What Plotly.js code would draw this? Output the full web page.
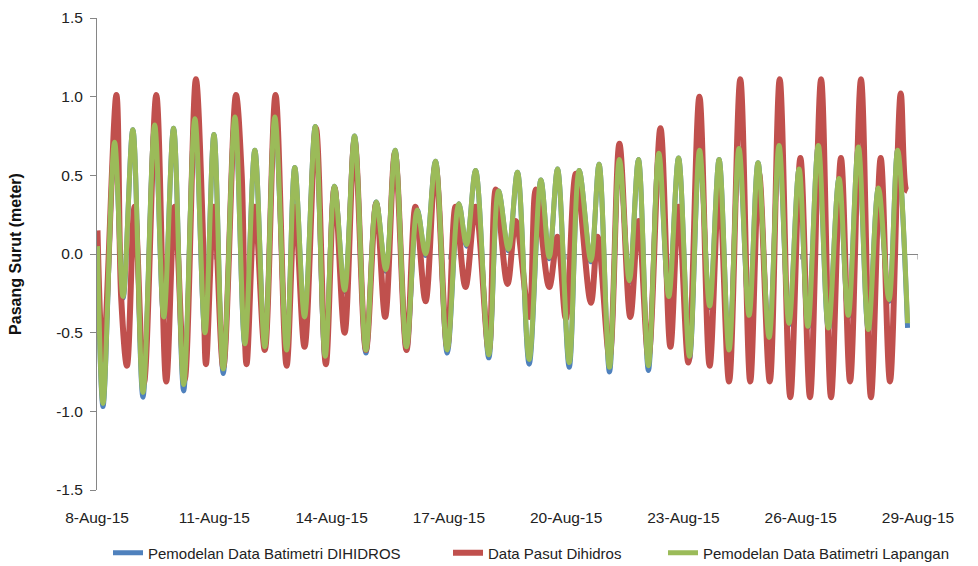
<!DOCTYPE html>
<html><head><meta charset="utf-8">
<script src="https://cdn.plot.ly/plotly-3.0.1.min.js"></script>
<style>html,body{margin:0;padding:0;background:#fff}#chart{width:978px;height:566px}</style>
</head><body><div id="chart"></div>
<script>
// Tick labels / categories
const tickDates = ['2015-08-08','2015-08-11','2015-08-14','2015-08-17','2015-08-20','2015-08-23','2015-08-26','2015-08-29'];
const tickLabels = ['8-Aug-15','11-Aug-15','14-Aug-15','17-Aug-15','20-Aug-15','23-Aug-15','26-Aug-15','29-Aug-15'];
const seriesNames = ['Pemodelan Data Batimetri DIHIDROS','Data Pasut Dihidros','Pemodelan Data Batimetri Lapangan'];

// Hours since 8-Aug-2015 00:00 of each turning point, and water level (m)
const redHours = [0.3,3.7,11.9,14.9,18.4,23.1,28.8,36.4,42.5,47.7,53.8,60.7,64.8,66.9,71.8,77.5,85.3,88.8,91.8,96.9,103.0,109.6,116.4,121.5,127.4,134.4,140.5,145.8,152.0,158.1,165.1,171.4,176.9,182.9,190.0,195.5,201.7,207.8,215.0,220.1,226.2,232.4,240.5,244.8,252.0,257.1,265.3,269.4,277.6,282.7,287.8,294.0,303.2,307.4,314.6,320.7,327.4,332.4,338.5,345.9,352.0,357.0,363.0,369.8,376.1,381.9,388.0,394.9,401.0,406.4,413.0,419.1,425.6,431.8,437.7,444.5,450.6,456.7,462.3,469.0,475.1,481.1,486.8,493.4,496.6,497.6];
const redLevels = [0.15,-0.67,1.01,-0.29,-0.71,0.30,-0.82,1.01,-0.81,0.30,-0.80,1.11,0.20,-0.70,0.30,-0.72,1.01,0.51,-0.70,0.30,-0.61,1.01,-0.71,0.30,-0.59,0.80,-0.70,0.42,-0.50,0.72,-0.61,0.32,-0.40,0.64,-0.61,0.30,-0.30,0.56,-0.59,0.30,-0.21,0.30,-0.61,0.41,-0.19,0.21,-0.40,0.41,-0.21,0.11,-0.41,0.51,-0.31,0.11,-0.65,0.70,-0.40,0.21,-0.65,0.80,-0.59,0.30,-0.69,1.00,-0.71,0.43,-0.81,1.11,-0.81,0.51,-0.81,1.11,-0.91,0.61,-0.91,1.11,-0.91,0.61,-0.81,1.11,-0.91,0.61,-0.81,1.02,0.41,0.40];

const greenHours = [0.3,3.7,10.8,16.0,22.0,28.2,35.4,41.0,47.0,53.2,60.1,66.3,71.8,77.5,84.7,90.8,96.9,103.0,109.2,116.4,121.4,127.4,134.0,140.1,145.8,152.0,158.1,165.1,171.4,177.3,183.0,190.0,196.6,201.7,207.8,215.0,222.1,226.8,232.4,240.5,246.5,252.6,258.1,265.3,272.5,277.6,282.7,289.9,296.0,303.2,308.2,314.6,320.7,326.8,332.4,338.5,344.9,351.0,357.0,363.7,369.9,376.1,381.9,388.0,394.1,400.3,405.8,412.6,418.7,424.8,431.0,436.4,442.8,449.0,455.5,461.2,467.4,473.5,479.7,486.2,491.5,497.6];
const greenLevels = [0.05,-0.95,0.71,-0.27,0.79,-0.88,0.82,-0.40,0.80,-0.83,0.86,-0.50,0.76,-0.73,0.87,-0.57,0.66,-0.59,0.87,-0.61,0.55,-0.40,0.81,-0.65,0.43,-0.23,0.75,-0.61,0.33,-0.10,0.66,-0.59,0.28,0.00,0.59,-0.61,0.32,0.06,0.53,-0.64,0.40,0.03,0.52,-0.67,0.47,-0.02,0.54,-0.69,0.53,-0.04,0.57,-0.72,0.60,-0.17,0.60,-0.71,0.64,-0.27,0.61,-0.65,0.66,-0.33,0.60,-0.61,0.67,-0.39,0.58,-0.53,0.69,-0.44,0.54,-0.46,0.69,-0.47,0.48,-0.39,0.68,-0.48,0.42,-0.29,0.66,-0.44];

const blueHours = [0.3,3.7,10.8,16.0,22.0,28.2,35.4,41.0,47.0,53.2,60.1,66.3,71.8,77.5,84.7,90.8,96.9,103.0,109.2,116.4,121.4,127.4,134.0,140.1,145.8,152.0,158.1,165.1,171.4,177.3,183.0,190.0,196.6,201.7,207.8,215.0,222.1,226.8,232.4,240.5,246.5,252.6,258.1,265.3,272.5,277.6,282.7,289.9,296.0,303.2,308.2,314.6,320.7,326.8,332.4,338.5,344.9,351.0,357.0,363.7,369.9,376.1,381.9,388.0,394.1,400.3,405.8,412.6,418.7,424.8,431.0,436.4,442.8,449.0,455.5,461.2,467.4,473.5,479.7,486.2,491.5,497.6];
const blueLevels = [0.04,-0.97,0.71,-0.28,0.79,-0.91,0.82,-0.41,0.80,-0.87,0.86,-0.51,0.76,-0.76,0.87,-0.58,0.66,-0.60,0.87,-0.62,0.55,-0.41,0.81,-0.67,0.43,-0.24,0.75,-0.63,0.33,-0.11,0.66,-0.61,0.28,-0.01,0.59,-0.63,0.32,0.05,0.53,-0.66,0.40,0.02,0.52,-0.70,0.47,-0.03,0.54,-0.72,0.53,-0.05,0.57,-0.75,0.60,-0.18,0.60,-0.74,0.64,-0.28,0.61,-0.67,0.66,-0.34,0.60,-0.62,0.67,-0.40,0.58,-0.54,0.69,-0.45,0.54,-0.47,0.69,-0.48,0.48,-0.40,0.68,-0.49,0.42,-0.30,0.66,-0.47];

const yTicks = [-1.5,-1.0,-0.5,0.0,0.5,1.0,1.5];

function toDates(hours){
  const base = Date.UTC(2015,7,8);
  return hours.map(h => new Date(base + Math.round(h*3600000)).toISOString().replace('T',' ').slice(0,19));
}

const FONT = '"Liberation Sans", Arial, sans-serif';
const mk = (hrs, lv, name, color, width, lg) => ({
  type:'scatter', mode:'lines', x: toDates(hrs), y: lv, name: name,
  line:{color:color, width:width, shape:'spline', smoothing:1}, legend: lg, hoverinfo:'skip'
});

const data = [
  mk(blueHours, blueLevels, seriesNames[0], '#4F81BD', 5, 'legend'),
  mk(redHours, redLevels, seriesNames[1], '#C0504D', 6, 'legend2'),
  mk(greenHours, greenLevels, seriesNames[2], '#9BBB59', 5, 'legend3')
];

const legBase = {orientation:'h', xref:'container', yref:'container', xanchor:'left', yanchor:'middle',
  y: 13/566, font:{family:FONT, size:15, color:'#222'}, bgcolor:'rgba(0,0,0,0)', borderwidth:0};

const shapes = tickDates.map(d => ({type:'line', xref:'x', yref:'y', x0:d, x1:d, y0:0, y1:-0.035,
  line:{color:'#868686', width:1}, layer:'below'}));

const layout = {
  width:978, height:566,
  margin:{l:97, r:60, t:18, b:76, pad:0},
  paper_bgcolor:'#fff', plot_bgcolor:'#fff',
  font:{family:FONT, color:'#222'},
  showlegend:true,
  legend: Object.assign({}, legBase, {x:108/978}),
  legend2: Object.assign({}, legBase, {x:448/978}),
  legend3: Object.assign({}, legBase, {x:663/978}),
  xaxis:{type:'date', range:['2015-08-08','2015-08-29'], tickmode:'array', tickvals:tickDates, ticktext:tickLabels,
    showgrid:false, zeroline:false, showline:false, ticks:'', tickfont:{family:FONT, size:15.5, color:'#222'},
    ticklabelstandoff:16, fixedrange:true},
  yaxis:{range:[-1.5,1.5], tickmode:'array', tickvals:yTicks, ticktext:yTicks.map(v=>v.toFixed(1)),
    showgrid:false, showline:true, linecolor:'#868686', linewidth:1, ticks:'outside', ticklen:6, tickcolor:'#868686',
    zeroline:true, zerolinecolor:'#868686', zerolinewidth:1, tickfont:{family:FONT, size:15.5, color:'#222'},
    ticklabelstandoff:4,
    title:{text:'Pasang Surut (meter)', font:{family:FONT, size:16, weight:'bold', color:'#111'}, standoff:30},
    fixedrange:true},
  shapes: shapes
};

Plotly.newPlot('chart', data, layout, {displayModeBar:false, staticPlot:true});
</script>
</body></html>
